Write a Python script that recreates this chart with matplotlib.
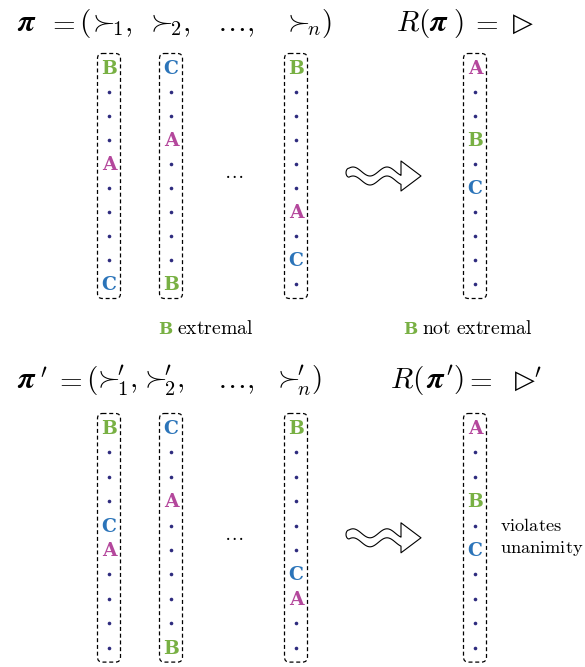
import matplotlib.pyplot as plt
import numpy as np
from matplotlib.patches import FancyBboxPatch, Polygon

plt.rcParams['mathtext.fontset'] = 'cm'

# ballots: one string per voter, top to bottom, '.' = some other candidate
top_votes = ["B...A....C", "C..A.....B", "B.....A.C."]
top_outcome = "A..B.C...."
bottom_votes = ["B...CA....", "C..A.....B", "B.....CA.."]
bottom_outcome = "A..B.C...."

# title tokens: (text, x where the ink starts, math font); None = plain text
PI = r"$\mathbfit{\pi}$"
top_title = [(PI, 18, 'stix'), (r"$=$", 55, 'cm'), (r"$($", 83, 'cm'),
             (r"$\succ\!\!_1,$", 95, 'cm'), (r"$\succ\!\!_2,$", 153, 'cm'),
             (r"$\ldots,$", 221, 'cm'), (r"$\succ\!\!_n)$", 290, 'cm')]
top_result = [(r"$R($", 398, 'cm'), (PI, 430, 'stix'), (r"$)$", 455, 'cm'),
              (r"$=$", 478, 'cm'), ("\u25b7", 513, None)]
bottom_title = [(PI, 18, 'stix'), (r"${}^{\prime}$", 41, 'cm'), (r"$=$", 62, 'cm'),
                (r"$($", 90, 'cm'), (r"$\succ\!\!_1^{\prime},$", 100, 'cm'),
                (r"$\succ\!\!_2^{\prime},$", 147, 'cm'), (r"$\ldots,$", 221, 'cm'),
                (r"$\succ\!\!_n^{\prime})$", 280, 'cm')]
bottom_result = [(r"$R($", 392, 'cm'), (PI, 427, 'stix'), (r"${}^{\prime})$", 447, 'cm'),
                 (r"$=$", 472, 'cm'), ("\u25b7", 515, None), (r"${}^{\prime}$", 535, 'cm')]

cand_colors = {"A": "#b4479c", "B": "#78b043", "C": "#2b74b9"}
dot_color = "#2e2b7e"

W, H = 585, 667


def make_canvas():
    f = plt.figure(figsize=(W / 100, H / 100), dpi=100)
    a = f.add_axes([0, 0, 1, 1])
    a.set_xlim(0, W)
    a.set_ylim(H, 0)
    a.axis('off')
    return f, a


fig, ax = make_canvas()
scratch, sax = make_canvas()

col_x = [109, 171, 296]
out_x = 475


def token_style(mf, size):
    if mf is None:
        return dict(fontsize=size - 2.5, family='DejaVu Sans')
    return dict(fontsize=size + 1 if mf == 'stix' else size, math_fontfamily=mf)


def ink_offset(s, style):
    # where the ink of a token starts relative to its anchor
    t = sax.text(100, 300, s, ha='left', va='baseline', **style)
    scratch.canvas.draw()
    img = np.asarray(scratch.canvas.buffer_rgba())[:, :, :3]
    cols = np.where((img.min(axis=2) < 200).any(axis=0))[0]
    t.remove()
    return cols.min() - 100


def put_tokens(y, tokens, size):
    for s, x, mf in tokens:
        style = token_style(mf, size)
        ax.text(x - ink_offset(s, style), y, s, ha='left', va='baseline', **style)


def draw_column(x, ballot, y0, step):
    n = len(ballot)
    box = FancyBboxPatch((x - 9, y0 - 12), 18, step * (n - 1) + 24,
                         boxstyle="round,pad=2.5,rounding_size=5",
                         fill=False, ec='black', lw=0.9, ls=(0, (3.2, 2.2)))
    ax.add_patch(box)
    for i, c in enumerate(ballot):
        y = y0 + i * step
        if c == '.':
            ax.plot(x, y, 'o', ms=2.6, color=dot_color, mec='none')
        else:
            ax.text(x, y + 1, c, color=cand_colors[c], fontsize=13.5, family='DejaVu Serif',
                    weight='bold', ha='center', va='center')


def draw_squiggle(x0, yc):
    xs = np.linspace(x0, x0 + 52, 80)
    mid = yc + 4.5 * np.sin(2 * np.pi * (xs - x0 - 12.5) / 34)
    upper = mid - 4.5
    lower = mid + 4.5
    hx = x0 + 52
    pts = list(zip(xs, upper))
    pts += [(hx, yc - 15), (hx + 20, yc), (hx, yc + 15)]
    pts += list(zip(xs[::-1], lower[::-1]))
    # rounded left end
    cy = (upper[0] + lower[0]) / 2
    ang = np.linspace(np.pi / 2, 3 * np.pi / 2, 12)
    pts += list(zip(x0 + 3 * np.cos(ang), cy + 4.5 * np.sin(ang)))
    ax.add_patch(Polygon(pts, closed=True, fill=False, ec='black', lw=0.8,
                         joinstyle='round'))


def draw_panel(votes, outcome, title, result, ybase, y0, step):
    put_tokens(ybase, title, 21)
    put_tokens(ybase, result, 21)
    for x, b in zip(col_x, votes):
        draw_column(x, b, y0, step)
    draw_column(out_x, outcome, y0, step)
    ymid = y0 + step * 4.5
    ax.text(234, ymid - 3, r"$\ldots$", fontsize=14, ha='center', va='center')
    draw_squiggle(349, ymid)


draw_panel(top_votes, top_outcome, top_title, top_result, 31, 68, 24)
draw_panel(bottom_votes, bottom_outcome, bottom_title, bottom_result, 388, 428, 24.4)

# annotations
lab = dict(fontsize=14.2, ha='left', va='center')
ax.text(158, 329, "B", color=cand_colors["B"], fontsize=12, family='DejaVu Serif',
        weight='bold', ha='left', va='center')
ax.text(177, 329, r"$\mathrm{extremal}$", **lab)
ax.text(403, 329, "B", color=cand_colors["B"], fontsize=12, family='DejaVu Serif',
        weight='bold', ha='left', va='center')
ax.text(422, 329, r"$\mathrm{not\ extremal}$", **lab)
ax.text(500, 526, r"$\mathrm{violates}$", fontsize=13.2, ha='left', va='center')
ax.text(500, 549, r"$\mathrm{unanimity}$", fontsize=13.2, ha='left', va='center')

fig.savefig("out.png", dpi=100)
